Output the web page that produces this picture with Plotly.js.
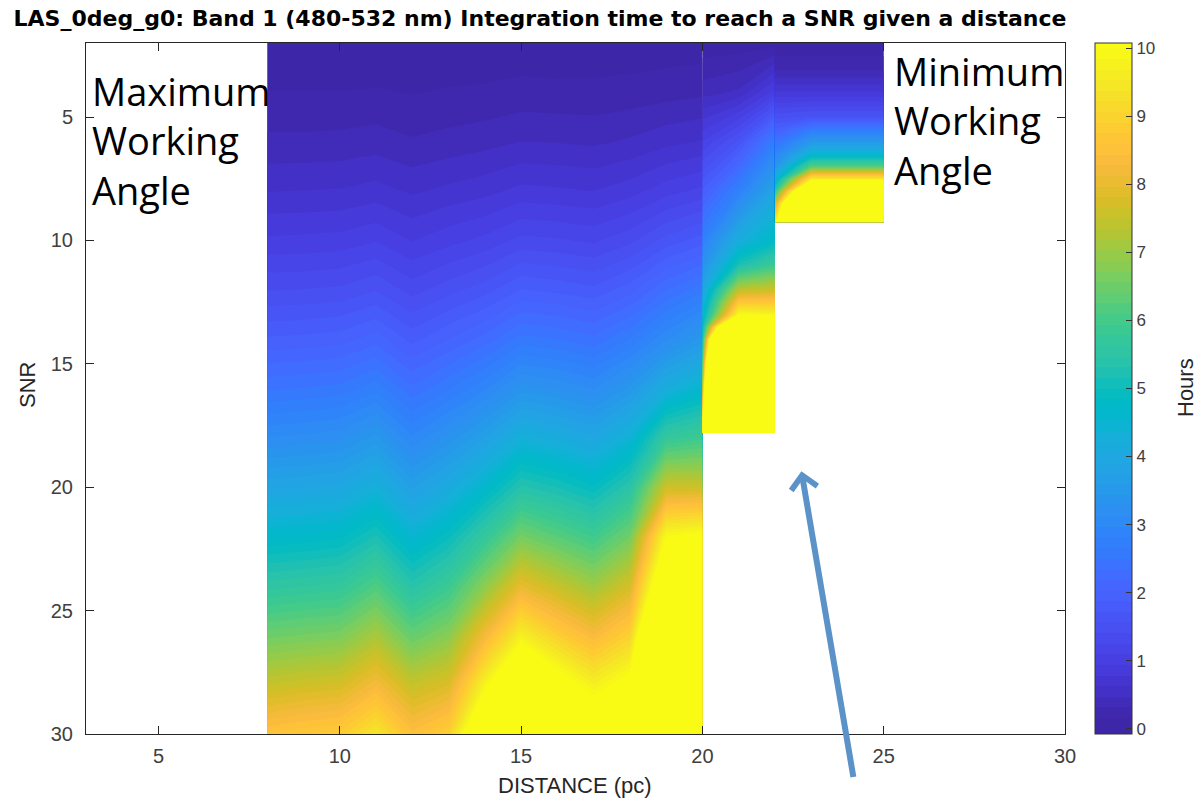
<!DOCTYPE html>
<html><head><meta charset="utf-8">
<script src="https://cdn.plot.ly/plotly-3.0.1.min.js"></script>
<style>html,body{margin:0;padding:0;background:#fff}#chart{width:1198px;height:798px}</style>
</head><body><div id="chart"></div>
<script>
// ---- Block A: distances 8..20 pc, SNR 2..30 (integration time in hours)
const distA = [8, 9, 10, 11, 12, 13, 14, 15, 16, 17, 18, 19, 20];
const snrA = [2, 4, 6, 8, 10, 12, 14, 16, 18, 20, 22, 24, 26, 28, 30];
// each row = one distance column, values follow snrA
const hoursA = [
  [0.04,0.16,0.35,0.62,0.97,1.40,1.90,2.48,3.14,3.88,4.68,5.55,6.50,7.50,8.60],
  [0.04,0.16,0.35,0.63,0.98,1.41,1.92,2.51,3.17,3.92,4.73,5.62,6.58,7.62,8.73],
  [0.04,0.16,0.36,0.64,1.00,1.44,1.96,2.56,3.23,3.98,4.80,5.68,6.65,7.70,8.82],
  [0.04,0.17,0.39,0.69,1.08,1.55,2.11,2.76,3.49,4.30,5.18,6.14,7.16,8.25,9.45],
  [0.04,0.15,0.33,0.60,0.93,1.34,1.82,2.38,3.00,3.72,4.52,5.40,6.40,7.50,8.50],
  [0.04,0.17,0.37,0.67,1.04,1.50,2.03,2.64,3.33,4.10,4.95,5.85,6.80,7.80,8.90],
  [0.05,0.18,0.41,0.73,1.14,1.65,2.25,2.95,3.75,4.65,5.70,6.85,8.20,9.80,11.6],
  [0.05,0.21,0.47,0.83,1.30,1.88,2.56,3.36,4.30,5.35,6.60,8.00,9.70,11.8,14.0],
  [0.05,0.20,0.46,0.81,1.27,1.83,2.50,3.27,4.15,5.15,6.25,7.50,8.90,10.5,12.4],
  [0.05,0.20,0.44,0.78,1.22,1.76,2.39,3.12,3.96,4.88,5.92,7.05,8.30,9.70,11.1],
  [0.05,0.22,0.49,0.87,1.36,1.96,2.67,3.48,4.41,5.45,6.55,7.70,8.95,10.3,11.8],
  [0.06,0.25,0.58,1.03,1.62,2.33,3.10,4.20,5.70,7.60,10.0,11.5,14.0,18.0,24.0],
  [0.07,0.28,0.64,1.14,1.80,2.60,3.50,4.60,5.90,7.60,10.2,14.0,20.0,28.0,38.0]
];

// ---- Block B: distances 20..22 pc, SNR 2..17.8
const distB = [20, 21, 22];
const snrB = [2, 4, 6, 8, 10, 11, 12, 12.5, 13, 13.5, 14, 15, 16, 17.8];
const hoursB = [
  [0.05,0.40,1.10,1.90,2.80,3.30,3.90,4.20,4.50,4.85,5.20,6.10,7.20,11.0],
  [0.06,0.50,1.60,2.80,4.20,5.20,7.40,8.70,10.0,17.0,30.0,45.0,60.0,80.0],
  [0.10,1.00,2.70,3.90,4.80,5.90,7.60,8.70,9.80,12.0,15.0,22.0,30.0,45.0]
];

// ---- Block C: distances 22..25 pc, SNR 2..9.26
const distC = [22, 23, 24, 25];
const snrC = [2, 3, 4, 5, 5.5, 6, 6.5, 7, 7.5, 8, 8.5, 9.26];
const hoursC = [
  [0.05,0.25,0.80,1.50,1.90,2.40,2.90,3.40,4.30,5.60,7.40,9.50],
  [0.05,0.25,0.80,1.60,2.60,3.50,4.50,6.20,9.50,14.0,20.0,30.0],
  [0.05,0.25,0.80,1.60,2.60,3.50,4.50,6.20,9.50,14.0,20.0,30.0],
  [0.05,0.25,0.80,1.60,2.60,3.50,4.50,6.20,9.50,14.0,20.0,30.0]
];

const xTicks = [5, 10, 15, 20, 25, 30];
const yTicks = [5, 10, 15, 20, 25, 30];
const cbTicks = [0,1,2,3,4,5,6,7,8,9,10];

// parula colormap (64 entries)
const parula = [
[0.2422,0.1504,0.6603],[0.2504,0.1650,0.7076],[0.2578,0.1818,0.7511],[0.2647,0.1978,0.7952],
[0.2706,0.2147,0.8364],[0.2751,0.2342,0.8710],[0.2783,0.2559,0.8991],[0.2803,0.2782,0.9221],
[0.2813,0.3006,0.9414],[0.2810,0.3228,0.9579],[0.2795,0.3447,0.9717],[0.2760,0.3667,0.9829],
[0.2699,0.3892,0.9906],[0.2602,0.4123,0.9952],[0.2440,0.4358,0.9988],[0.2206,0.4603,0.9973],
[0.1963,0.4847,0.9892],[0.1834,0.5074,0.9798],[0.1786,0.5289,0.9682],[0.1764,0.5499,0.9520],
[0.1687,0.5703,0.9359],[0.1540,0.5902,0.9218],[0.1460,0.6091,0.9079],[0.1380,0.6276,0.8973],
[0.1248,0.6459,0.8883],[0.1113,0.6635,0.8763],[0.0952,0.6798,0.8598],[0.0689,0.6948,0.8394],
[0.0297,0.7082,0.8163],[0.0036,0.7203,0.7917],[0.0067,0.7312,0.7660],[0.0433,0.7411,0.7394],
[0.0964,0.7500,0.7120],[0.1408,0.7584,0.6842],[0.1717,0.7670,0.6554],[0.1938,0.7758,0.6251],
[0.2161,0.7843,0.5923],[0.2470,0.7918,0.5567],[0.2906,0.7973,0.5188],[0.3406,0.8008,0.4789],
[0.3909,0.8029,0.4354],[0.4456,0.8024,0.3909],[0.5044,0.7993,0.3480],[0.5616,0.7942,0.3045],
[0.6174,0.7876,0.2612],[0.6720,0.7793,0.2227],[0.7242,0.7698,0.1910],[0.7738,0.7598,0.1646],
[0.8203,0.7498,0.1535],[0.8634,0.7406,0.1596],[0.9035,0.7330,0.1774],[0.9393,0.7288,0.2100],
[0.9728,0.7298,0.2394],[0.9956,0.7434,0.2371],[0.9970,0.7659,0.2199],[0.9952,0.7893,0.2028],
[0.9892,0.8136,0.1885],[0.9786,0.8386,0.1766],[0.9676,0.8639,0.1643],[0.9610,0.8890,0.1537],
[0.9597,0.9135,0.1423],[0.9628,0.9373,0.1265],[0.9691,0.9606,0.1064],[0.9769,0.9839,0.0805]
];
const rgb = c => 'rgb(' + c.map(v => Math.round(v * 255)).join(',') + ')';
const nBands = parula.length;          // 64 colour steps
const cMax = 10;
const bandSize = cMax / nBands;
// place colour k where Plotly samples band k of a filled contour
const colorscale = [[0, rgb(parula[0])]];
parula.forEach((c, k) => colorscale.push([(k + 1.5) / (nBands + 1), rgb(c)]));
colorscale.push([1, rgb(parula[nBands - 1])]);

const transpose = cols => cols[0].map((_, r) => cols.map(col => col[r]));

function block(dist, snr, hours, showscale) {
  return {
    type: 'contour',
    x: dist, y: snr, z: transpose(hours),
    autocontour: false,
    contours: {start: 0, end: cMax, size: bandSize, coloring: 'fill', showlines: false},
    line: {width: 0, smoothing: 0},
    colorscale: colorscale,
    showscale: showscale,
    hoverinfo: 'skip',
    colorbar: {
      x: (1095 - 86) / 979, xanchor: 'left', xpad: 0,
      y: 0.5, yanchor: 'middle', len: 1, lenmode: 'fraction', ypad: 0,
      thickness: 37, outlinewidth: 1, outlinecolor: '#333',
      tickmode: 'array', tickvals: cbTicks, ticktext: cbTicks.map(String),
      ticks: 'inside', ticklen: 6, tickcolor: '#333',
      tickfont: {family: 'Liberation Sans', size: 17, color: '#404040'}
    }
  };
}

const data = [
  block(distA, snrA, hoursA, true),
  block(distB, snrB, hoursB, false),
  block(distC, snrC, hoursC, false)
];

const axisFont = {family: 'Liberation Sans', size: 20, color: '#404040'};
const labelFont = {family: 'Liberation Sans', size: 22, color: '#262626'};
const layout = {
  width: 1198, height: 798,
  margin: {l: 86, r: 133, t: 43, b: 64, pad: 0},
  paper_bgcolor: '#fff', plot_bgcolor: '#fff',
  showlegend: false,
  title: {
    text: '<b>LAS_0deg_g0: Band 1 (480-532 nm) Integration time to reach a SNR given a distance</b>',
    font: {family: 'DejaVu Sans', size: 22, color: '#000'},
    xref: 'paper', x: (540 - 86) / 979, xanchor: 'center',
    yref: 'container', y: 1 - 18 / 798, yanchor: 'middle'
  },
  xaxis: {
    range: [3, 30], tickmode: 'array', tickvals: xTicks,
    ticks: 'inside', ticklen: 8, tickcolor: '#262626',
    showline: true, linecolor: '#262626', linewidth: 1, mirror: 'ticks',
    showgrid: false, zeroline: false, tickfont: axisFont, ticklabelstandoff: 4
  },
  yaxis: {
    range: [30, 2], tickmode: 'array', tickvals: yTicks,
    ticks: 'inside', ticklen: 8, tickcolor: '#262626',
    showline: true, linecolor: '#262626', linewidth: 1, mirror: 'ticks',
    showgrid: false, zeroline: false, tickfont: axisFont, ticklabelstandoff: 8
  },
  annotations: [
    {xref: 'x', yref: 'y', x: 3.12, y: 5.97, xanchor: 'left', yanchor: 'middle', align: 'left',
     text: 'Maximum<br>Working<br>Angle', showarrow: false,
     font: {family: 'Open Sans', size: 38, color: '#000'}},
    {xref: 'x', yref: 'y', x: 25.22, y: 5.12, xanchor: 'left', yanchor: 'middle', align: 'left',
     text: 'Minimum<br>Working<br>Angle', showarrow: false,
     font: {family: 'Open Sans', size: 38, color: '#000'}},
    {xref: 'x', yref: 'y', x: 22.73, y: 19.35, axref: 'x', ayref: 'y', ax: 24.17, ay: 31.8,
     text: '', showarrow: true, arrowhead: 4, arrowsize: 0.85, arrowwidth: 6,
     arrowcolor: '#5b93c8', standoff: 0, startstandoff: 0},
    {xref: 'paper', yref: 'paper', x: (1185 - 86) / 979, y: (734 - 388) / 691,
     xanchor: 'center', yanchor: 'middle', textangle: -90,
     text: 'Hours', showarrow: false, font: labelFont},
    {xref: 'paper', yref: 'paper', x: (28 - 86) / 979, y: (734 - 385) / 691,
     xanchor: 'center', yanchor: 'middle', textangle: -90,
     text: 'SNR', showarrow: false, font: labelFont},
    {xref: 'paper', yref: 'paper', x: (575 - 86) / 979, y: (734 - 785) / 691,
     xanchor: 'center', yanchor: 'middle',
     text: 'DISTANCE (pc)', showarrow: false, font: labelFont}
  ]
};

Plotly.newPlot('chart', data, layout, {displayModeBar: false, staticPlot: true});
</script>
</body></html>
